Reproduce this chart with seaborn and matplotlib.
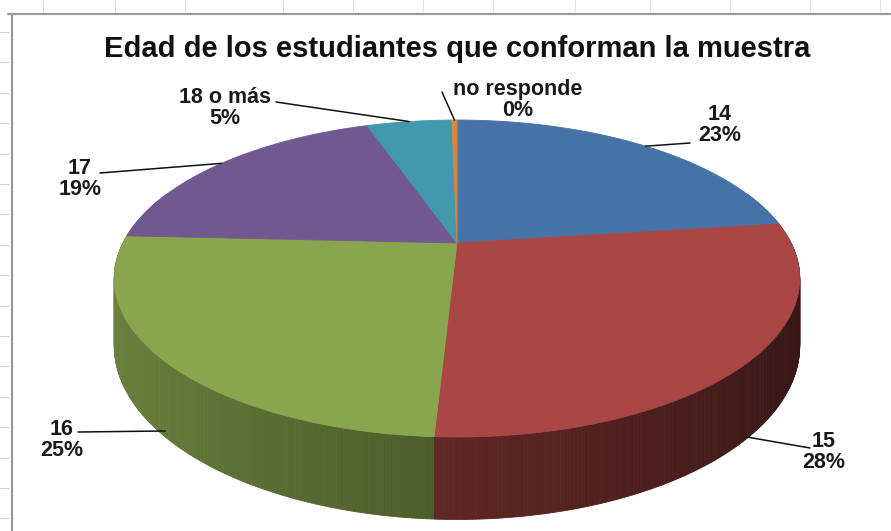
import numpy as np
import matplotlib
matplotlib.use("Agg")
import matplotlib.pyplot as plt
from matplotlib.patches import Polygon
import seaborn as sns

# ---- data -------------------------------------------------------------
categories = ["14", "15", "16", "17", "18 o más", "no responde"]
values = [23, 28, 25, 19, 5, 0.3]
title = "Edad de los estudiantes que conforman la muestra"

# ---- style ------------------------------------------------------------
sns.set_theme(style="white")
plt.rcParams["font.family"] = ["Liberation Sans", "DejaVu Sans"]
palette = sns.color_palette(["#4572A7", "#AA4643", "#89A54E",
                             "#71588F", "#4198AF", "#DB843D"])

W, H = 891, 531
fig = plt.figure(figsize=(W / 100, H / 100), dpi=100)
fig.patch.set_facecolor("white")
ax = fig.add_axes([0, 0, 1, 1])
ax.set_xlim(0, W)
ax.set_ylim(H, 0)
ax.axis("off")

# ---- worksheet frame around the chart object ---------------------------
for y in np.arange(32, H, 30.4):
    ax.plot([0, 8], [y, y], color="#d0d0d0", lw=0.8)
for x in [43, 115, 185, 283, 353, 423, 493, 575, 650, 730, 810, 880]:
    ax.plot([x, x], [0, 11], color="#e0e0e0", lw=0.8)
ax.plot([8, W], [13.5, 13.5], color="#9a9a9a", lw=1.6)
ax.plot([11.5, 11.5], [13.5, H], color="#9a9a9a", lw=1.6)

# ---- perspective disc geometry (pixel space) ---------------------------
CX, CY = 457, 243      # apex of the slices on the top face
R = 334                # horizontal radius
A = 96.1               # vertical radius term
C = -0.224             # perspective strength
DEPTH = 64             # thickness of the disc


def project(theta, z=0.0):
    """Angle measured clockwise from the back of the disc."""
    u = np.sin(theta)
    v = -np.cos(theta)
    w = 1 + C * v
    return CX + R * u / w, (A * v + CY + z) / w


total = float(np.sum(values))
fractions = np.array(values) / total
bounds = np.concatenate([[0], np.cumsum(fractions)]) * 2 * np.pi


def slice_of(theta):
    return min(np.searchsorted(bounds, theta, side="right") - 1, len(values) - 1)


# side wall, drawn back to front
n_seg = 720
thetas = np.linspace(0, 2 * np.pi, n_seg + 1)
segs = []
for t0, t1 in zip(thetas[:-1], thetas[1:]):
    tm = 0.5 * (t0 + t1)
    v = -np.cos(tm)
    if v < -0.35:
        continue
    segs.append((v, t0, t1, tm))
segs.sort(key=lambda s: s[0])
for v, t0, t1, tm in segs:
    k = slice_of(tm)
    u = np.sin(tm)
    f = np.clip(0.55 - 0.24 * u, 0.3, 0.9)
    base = np.array(palette[k])
    col = tuple(base * f)
    p = [project(t0), project(t1), project(t1, DEPTH), project(t0, DEPTH)]
    ax.add_patch(Polygon(p, closed=True, facecolor=col, edgecolor=col,
                         lw=0.6, antialiased=True))

# top faces
for k in range(len(values)):
    a0, a1 = bounds[k], bounds[k + 1]
    n = max(int((a1 - a0) / (2 * np.pi) * 720), 2)
    ts = np.linspace(a0, a1, n + 1)
    pts = [(CX, CY)] + [project(t) for t in ts]
    ax.add_patch(Polygon(pts, closed=True, facecolor=palette[k],
                         edgecolor=palette[k], lw=0.6))

# ---- title -------------------------------------------------------------
ax.text(457, 57, title, ha="center", va="baseline", fontsize=21,
        fontweight="bold", color="#111111")

# ---- data labels with leader lines ------------------------------------
label_pos = [(720, 125), (824, 452), (62, 440), (80, 179), (225, 108), (518, 100)]
leader_end = [(690, 143), (810, 448), (78, 432), (100, 173), (276, 102), (442, 92)]
wall_frac = [0.0, 0.97, 0.92, 0.0, 0.0, 0.0]

for k, cat in enumerate(categories):
    mid = 0.5 * (bounds[k] + bounds[k + 1])
    anchor = project(mid, DEPTH * wall_frac[k])
    ex, ey = leader_end[k]
    ax.plot([anchor[0], ex], [anchor[1], ey], color="#111111", lw=1.1)
    pct = f"{fractions[k] * 100:.0f}%"
    lx, ly = label_pos[k]
    ax.text(lx, ly, f"{cat}\n{pct}", ha="center", va="center",
            fontsize=15.5, fontweight="bold", color="#1a1a1a", linespacing=1.0)

fig.savefig("out.png", dpi=100, facecolor="white")
